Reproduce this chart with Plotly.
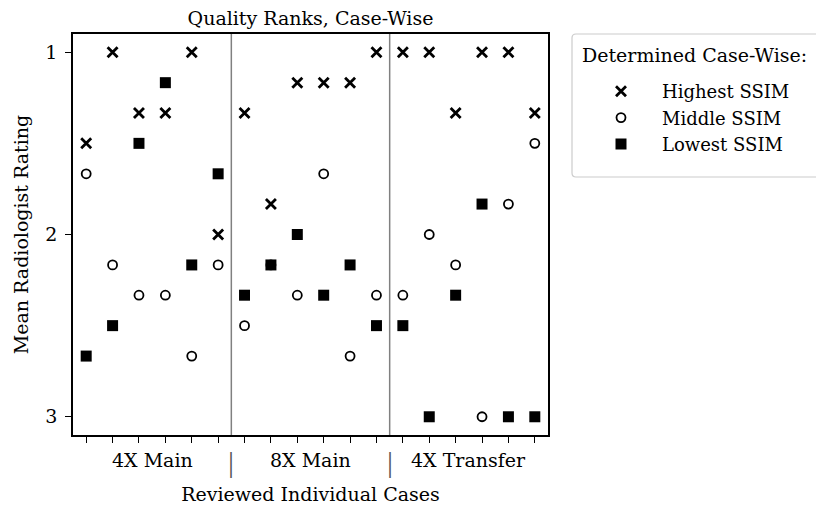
import plotly.graph_objects as go

groups = ["4X Main", "8X Main", "4X Transfer"]
cases = list(range(18))
highest = [1.5, 1.0, 1.333, 1.333, 1.0, 2.0,
           1.333, 1.833, 1.167, 1.167, 1.167, 1.0,
           1.0, 1.0, 1.333, 1.0, 1.0, 1.333]
middle = [1.667, 2.167, 2.333, 2.333, 2.667, 2.167,
          2.5, 2.167, 2.333, 1.667, 2.667, 2.333,
          2.333, 2.0, 2.167, 3.0, 1.833, 1.5]
lowest = [2.667, 2.5, 1.5, 1.167, 2.167, 1.667,
          2.333, 2.167, 2.0, 2.333, 2.167, 2.5,
          2.5, 3.0, 2.333, 1.833, 3.0, 3.0]
dividers = [5.5, 11.5]
group_centers = [2.5, 8.5, 14.5]
yticks = [1, 2, 3]

FONT = "DejaVu Serif"
FS = 19

# page has an 8px body margin, so the figure is laid out 8px smaller
W, H = 816, 498
L, T, R, B = 65, 26, 540, 427  # plot area in figure pixels
PW, PH = R - L, B - T


def px(xf):
    return (xf - L) / PW


def py(yf):
    return (B - yf) / PH


fig = go.Figure()
fig.add_trace(go.Scatter(x=cases, y=highest, mode="markers", name="Highest SSIM",
                         marker=dict(symbol="x-thin-open", size=10, color="black",
                                     line=dict(width=2.8, color="black"))))
fig.add_trace(go.Scatter(x=cases, y=middle, mode="markers", name="Middle SSIM",
                         marker=dict(symbol="circle-open", size=9, color="black",
                                     line=dict(width=1.8, color="black"))))
fig.add_trace(go.Scatter(x=cases, y=lowest, mode="markers", name="Lowest SSIM",
                         marker=dict(symbol="square", size=11, color="black",
                                     line=dict(width=0))))

for d in dividers:
    fig.add_shape(type="line", x0=d, x1=d, y0=0, y1=1, xref="x", yref="paper",
                  line=dict(color="#808080", width=1.5), layer="below")

# legend frame (right edge runs off the page, as in the reference)
bx0, by0, bx1, by1 = 564, 26, 900, 169
r = 4
fig.add_shape(type="path", xref="paper", yref="paper",
              path=(f"M {px(bx0 + r)},{py(by0)} L {px(bx1)},{py(by0)} L {px(bx1)},{py(by1)} "
                    f"L {px(bx0 + r)},{py(by1)} Q {px(bx0)},{py(by1)} {px(bx0)},{py(by1 - r)} "
                    f"L {px(bx0)},{py(by0 + r)} Q {px(bx0)},{py(by0)} {px(bx0 + r)},{py(by0)} Z"),
              line=dict(color="#cccccc", width=1.2), fillcolor="white", layer="below")

annots = []
for g, c in zip(groups, group_centers):
    annots.append(dict(x=c, y=0, xref="x", yref="paper", text=g, showarrow=False,
                       yanchor="top", yshift=-12, font=dict(family=FONT, size=FS, color="black")))
for d in dividers:
    annots.append(dict(x=d, y=0, xref="x", yref="paper", text="|", showarrow=False,
                       yanchor="top", yshift=-8,
                       font=dict(family="Liberation Serif", size=30, color="#555555")))
annots.append(dict(x=px(572), y=py(47), xref="paper", yref="paper",
                   text="Determined Case-Wise:", showarrow=False,
                   xanchor="left", yanchor="middle",
                   font=dict(family=FONT, size=FS, color="black")))

fig.update_layout(
    width=W, height=H,
    margin=dict(l=L, r=W - R, t=T, b=H - B, autoexpand=False),
    paper_bgcolor="white", plot_bgcolor="white",
    font=dict(family=FONT, size=FS, color="black"),
    title=dict(text="Quality Ranks, Case-Wise", x=0.5, xref="paper", xanchor="center",
               y=1, yref="paper", yanchor="bottom", pad=dict(b=9),
               font=dict(family=FONT, size=FS, color="black")),
    xaxis=dict(range=[-0.5, 17.5], tickmode="array", tickvals=cases, ticktext=[""] * 18,
               ticks="outside", ticklen=6, tickwidth=1, tickcolor="black",
               showline=True, linecolor="black", linewidth=1.5, mirror=True,
               showgrid=False, zeroline=False,
               title=dict(text="Reviewed Individual Cases", standoff=42,
                          font=dict(family=FONT, size=FS))),
    yaxis=dict(range=[3.1, 0.9], tickmode="array", tickvals=yticks,
               ticktext=[str(v) for v in yticks],
               ticks="outside", ticklen=6, tickwidth=1, tickcolor="black",
               ticklabelstandoff=4,
               showline=True, linecolor="black", linewidth=1.5, mirror=True,
               showgrid=False, zeroline=False,
               title=dict(text="Mean Radiologist Rating", standoff=12,
                          font=dict(family=FONT, size=FS))),
    legend=dict(x=px(564), y=py(65), xanchor="left", yanchor="top",
                font=dict(family=FONT, size=18, color="black"),
                bgcolor="rgba(0,0,0,0)", borderwidth=0,
                itemwidth=72, indentation=8),
    annotations=annots,
    showlegend=True,
)

fig.write_html("out.html")
